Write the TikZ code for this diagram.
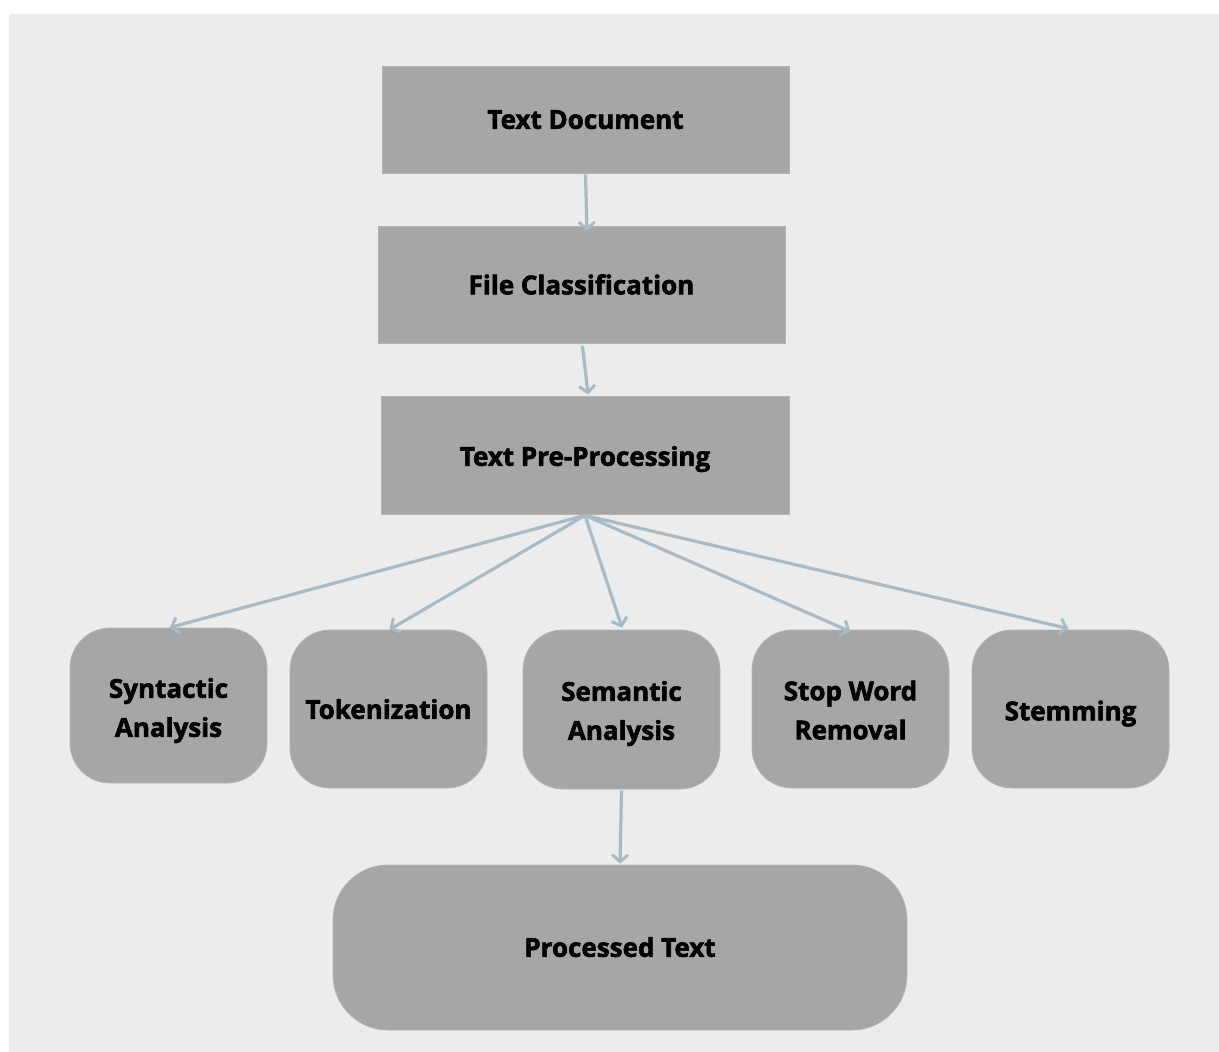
\documentclass[tikz,border=0pt]{standalone}
\usepackage{fontspec}
\setmainfont{Open Sans}[BoldFeatures={FakeBold=2.2}]
\usetikzlibrary{arrows.meta}
\definecolor{canvas}{HTML}{ECECEC}
\definecolor{boxfill}{HTML}{A6A6A6}
\definecolor{boxline}{HTML}{B4B4B4}
\definecolor{flow}{HTML}{A9BAC5}
% box label: lowered slightly inside its box, size kept
\newcommand\boxlabel[2][2pt]{\raisebox{-#1}[\height][\depth]{\begin{tabular}{@{}c@{}}#2\end{tabular}}}
\begin{document}
\begin{tikzpicture}[x=1pt,y=-1pt,
  every node/.style={font=\fontsize{26}{39}\selectfont\bfseries, text=black, align=center, inner sep=0pt},
  squarebox/.style={fill=boxfill, draw=boxline, line width=0.8pt},
  roundbox/.style={fill=boxfill, draw=boxline, line width=0.8pt, rounded corners=40pt},
  flowarrow/.style={draw=flow, line width=3.2pt, -{Straight Barb[length=7pt,width=16pt,line width=3pt]}}]
  \useasboundingbox (0,0) rectangle (1219,1052);
  \fill[white] (-5,-5) rectangle (1225,1060);
  \fill[canvas] (9,14) rectangle (1225,1060);

  % main pipeline
  \node[squarebox, minimum width=407pt, minimum height=107pt] (td) at (585.5,119.5) {\boxlabel[1.5pt]{Text Document}};
  \node[squarebox, minimum width=407pt, minimum height=117pt] (fc) at (581.5,285) {\boxlabel[1.5pt]{File Classification}};
  \node[squarebox, minimum width=408pt, minimum height=118pt] (tp) at (585,455) {\boxlabel[3pt]{Text Pre-Processing}};

  % pre-processing steps
  \node[roundbox, minimum width=197pt, minimum height=155pt] (syn) at (168.5,705.5) {\boxlabel[4pt]{Syntactic\\Analysis}};
  \node[roundbox, minimum width=197pt, minimum height=158pt] (tok) at (388.5,709) {\boxlabel[2pt]{Tokenization}};
  \node[roundbox, minimum width=197pt, minimum height=159pt] (sem) at (621.5,709.5) {\boxlabel[3pt]{Semantic\\Analysis}};
  \node[roundbox, minimum width=197pt, minimum height=158pt] (stw) at (850.5,709) {\boxlabel[3pt]{Stop Word\\Removal}};
  \node[roundbox, minimum width=197pt, minimum height=158pt] (stm) at (1070.5,709) {\boxlabel[3.5pt]{Stemming}};

  % result
  \node[roundbox, rounded corners=55pt, minimum width=574pt, minimum height=165pt] (pt) at (620,947.5) {\boxlabel[1.5pt]{Processed Text}};

  % connectors
  \draw[flowarrow] ([yshift=-1pt]td.south) -- ([xshift=5.5pt,yshift=-5pt]fc.north);
  \draw[flowarrow] ([xshift=1pt,yshift=-2pt]fc.south) -- ([xshift=3pt,yshift=1pt]tp.north);
  \coordinate (fan) at ([yshift=-1pt]tp.south);
  \draw[flowarrow] (fan) -- ([xshift=1pt]syn.north);
  \draw[flowarrow] (fan) -- ([xshift=1pt]tok.north);
  \draw[flowarrow] (fan) -- ([xshift=0.5pt,yshift=2pt]sem.north);
  \draw[flowarrow] (fan) -- ([xshift=0pt,yshift=-2pt]stw.north);
  \draw[flowarrow] (fan) -- ([xshift=-2pt,yshift=1pt]stm.north);
  \draw[flowarrow] ([yshift=-1pt]sem.south) -- ([yshift=1pt]pt.north);
\end{tikzpicture}
\end{document}
